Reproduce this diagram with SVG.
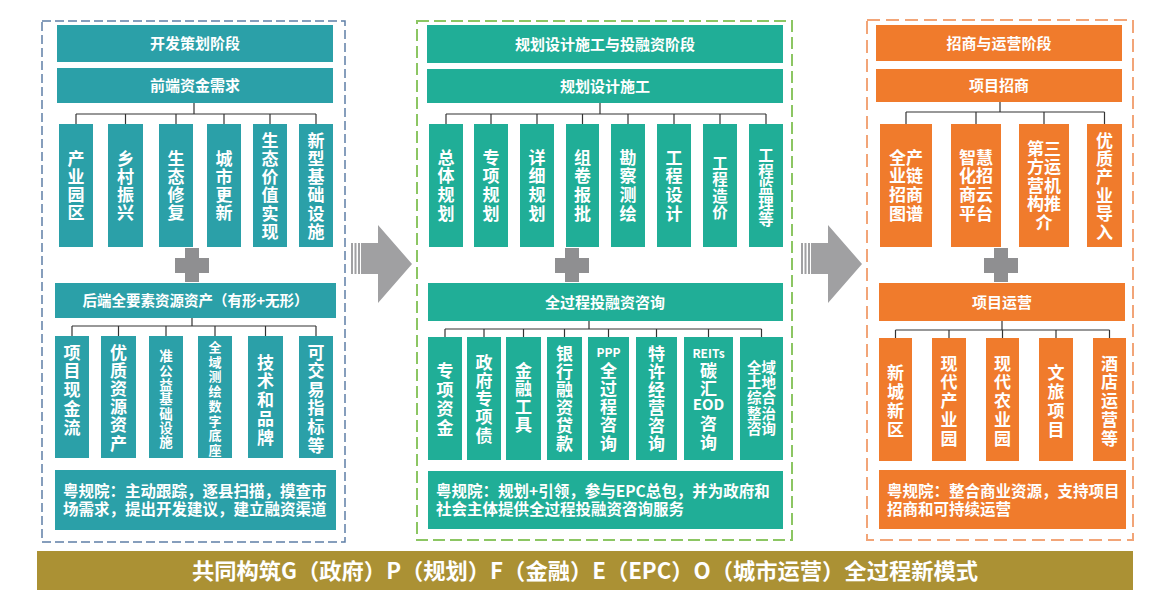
<svg xmlns="http://www.w3.org/2000/svg" width="1171" height="612" viewBox="0 0 1171 612">
<style>
text{font-family:"Noto Sans CJK SC","Noto Sans",sans-serif;font-weight:bold;fill:#fff}
.h{font-size:15px;text-anchor:middle}
.v{font-size:17px;text-anchor:middle}
.p{font-size:15.5px}
.L{fill:#2ba0a8}
.C{fill:#20ae97}
.R{fill:#f07b2c}
.conn line{stroke:#333;stroke-width:1.2}
.plus{fill:#8f8f91}
.arrow{fill:#a0a0a2}
</style>
<rect width="1171" height="612" fill="#fff"/>
<!-- panel borders -->
<rect x="42" y="21" width="303" height="521" fill="none" stroke="#5f7fa6" stroke-width="1.5" stroke-dasharray="9 4"/>
<rect x="417" y="21" width="375" height="519" fill="none" stroke="#8cc663" stroke-width="2" stroke-dasharray="12 5"/>
<rect x="867" y="20" width="266" height="520" fill="none" stroke="#f2a578" stroke-width="2" stroke-dasharray="13 6"/>

<!-- arrows -->
<g id="arrow1" class="arrow">
<rect x="351" y="243" width="2" height="31"/><rect x="354.5" y="243" width="2" height="31"/><rect x="358" y="243" width="2" height="31"/>
<polygon points="361,243 378,243 378,225 412,264 378,303 378,274 361,274"/>
</g>
<g id="arrow2" class="arrow">
<rect x="801" y="243" width="2" height="31"/><rect x="804.5" y="243" width="2" height="31"/><rect x="808" y="243" width="2" height="31"/>
<polygon points="811,243 828,243 828,225 862,264 828,303 828,274 811,274"/>
</g>

<!-- plus signs -->
<g id="plus1" class="plus"><rect x="185" y="248" width="14" height="34"/><rect x="175" y="258" width="34" height="15"/></g>
<g id="plus2" class="plus"><rect x="565" y="248" width="14" height="34"/><rect x="555" y="258" width="34" height="15"/></g>
<g id="plus3" class="plus"><rect x="994" y="248" width="14" height="34"/><rect x="984" y="258" width="34" height="15"/></g>

<!-- connectors -->
<g id="connectors" class="conn">
<line x1="194" y1="103" x2="194" y2="114"/><line x1="76" y1="114" x2="316" y2="114"/>
<line x1="76" y1="114" x2="76" y2="124"/><line x1="125.5" y1="114" x2="125.5" y2="124"/><line x1="176" y1="114" x2="176" y2="124"/><line x1="224" y1="114" x2="224" y2="124"/><line x1="270" y1="114" x2="270" y2="124"/><line x1="316" y1="114" x2="316" y2="124"/>
<line x1="192" y1="318" x2="192" y2="326"/><line x1="72" y1="326" x2="316" y2="326"/>
<line x1="72" y1="326" x2="72" y2="336"/><line x1="118.5" y1="326" x2="118.5" y2="336"/><line x1="166" y1="326" x2="166" y2="336"/><line x1="215" y1="326" x2="215" y2="336"/><line x1="265.5" y1="326" x2="265.5" y2="336"/><line x1="316" y1="326" x2="316" y2="336"/>
<line x1="600" y1="103" x2="600" y2="114"/><line x1="446" y1="114" x2="766" y2="114"/>
<line x1="446" y1="114" x2="446" y2="124"/><line x1="491" y1="114" x2="491" y2="124"/><line x1="537" y1="114" x2="537" y2="124"/><line x1="582.5" y1="114" x2="582.5" y2="124"/><line x1="628" y1="114" x2="628" y2="124"/><line x1="674" y1="114" x2="674" y2="124"/><line x1="720" y1="114" x2="720" y2="124"/><line x1="766" y1="114" x2="766" y2="124"/>
<line x1="589" y1="321" x2="589" y2="329"/><line x1="445" y1="329" x2="761.5" y2="329"/>
<line x1="445" y1="329" x2="445" y2="337"/><line x1="484" y1="329" x2="484" y2="337"/><line x1="523.5" y1="329" x2="523.5" y2="337"/><line x1="564.5" y1="329" x2="564.5" y2="337"/><line x1="608.5" y1="329" x2="608.5" y2="337"/><line x1="656.5" y1="329" x2="656.5" y2="337"/><line x1="708.5" y1="329" x2="708.5" y2="337"/><line x1="761.5" y1="329" x2="761.5" y2="337"/>
<line x1="1000" y1="102" x2="1000" y2="112"/><line x1="906" y1="112" x2="1104.5" y2="112"/>
<line x1="906" y1="112" x2="906" y2="124"/><line x1="976" y1="112" x2="976" y2="124"/><line x1="1044" y1="112" x2="1044" y2="124"/><line x1="1104.5" y1="112" x2="1104.5" y2="124"/>
<line x1="1002" y1="321" x2="1002" y2="330"/><line x1="895.5" y1="330" x2="1109.5" y2="330"/>
<line x1="895.5" y1="330" x2="895.5" y2="338"/><line x1="949" y1="330" x2="949" y2="338"/><line x1="1002.5" y1="330" x2="1002.5" y2="338"/><line x1="1056" y1="330" x2="1056" y2="338"/><line x1="1109.5" y1="330" x2="1109.5" y2="338"/>
</g>

<!-- LEFT PANEL -->
<g id="l-stage"><rect class="L" x="57" y="25" width="276" height="37"/><text class="h" x="195" y="49">开发策划阶段</text></g>
<g id="l-front"><rect class="L" x="57" y="68" width="276" height="35"/><text class="h" x="195" y="91">前端资金需求</text></g>
<g id="l1"><rect class="L" x="59" y="124" width="34" height="123"/><text class="v" x="76" y="164.5"><tspan x="76">产</tspan><tspan x="76" dy="18.3">业</tspan><tspan x="76" dy="18.3">园</tspan><tspan x="76" dy="18.3">区</tspan></text></g>
<g id="l2"><rect class="L" x="108" y="124" width="35" height="123"/><text class="v" x="125.5" y="164.5"><tspan x="125.5">乡</tspan><tspan x="125.5" dy="18.3">村</tspan><tspan x="125.5" dy="18.3">振</tspan><tspan x="125.5" dy="18.3">兴</tspan></text></g>
<g id="l3"><rect class="L" x="159" y="124" width="34" height="123"/><text class="v" x="176" y="164.5"><tspan x="176">生</tspan><tspan x="176" dy="18.3">态</tspan><tspan x="176" dy="18.3">修</tspan><tspan x="176" dy="18.3">复</tspan></text></g>
<g id="l4"><rect class="L" x="207" y="124" width="34" height="123"/><text class="v" x="224" y="164.5"><tspan x="224">城</tspan><tspan x="224" dy="18.3">市</tspan><tspan x="224" dy="18.3">更</tspan><tspan x="224" dy="18.3">新</tspan></text></g>
<g id="l5"><rect class="L" x="253" y="124" width="34" height="123"/><text class="v" x="270" y="146.5"><tspan x="270">生</tspan><tspan x="270" dy="18.3">态</tspan><tspan x="270" dy="18.3">价</tspan><tspan x="270" dy="18.3">值</tspan><tspan x="270" dy="18.3">实</tspan><tspan x="270" dy="18.3">现</tspan></text></g>
<g id="l6"><rect class="L" x="299" y="124" width="34" height="123"/><text class="v" x="316" y="146.5"><tspan x="316">新</tspan><tspan x="316" dy="18.3">型</tspan><tspan x="316" dy="18.3">基</tspan><tspan x="316" dy="18.3">础</tspan><tspan x="316" dy="18.3">设</tspan><tspan x="316" dy="18.3">施</tspan></text></g>

<g id="l-back"><rect class="L" x="55" y="283" width="281" height="35"/><text class="h" x="195.5" y="306" style="font-size:14.5px">后端全要素资源资产（有形+无形）</text></g>
<g id="l7"><rect class="L" x="55" y="336" width="34" height="122"/><text class="v" x="72" y="358.5"><tspan x="72">项</tspan><tspan x="72" dy="18.75">目</tspan><tspan x="72" dy="18.75">现</tspan><tspan x="72" dy="18.75">金</tspan><tspan x="72" dy="18.75">流</tspan></text></g>
<g id="l8"><rect class="L" x="101" y="336" width="35" height="122"/><text class="v" x="118.5" y="358.5"><tspan x="118.5">优</tspan><tspan x="118.5" dy="18.2">质</tspan><tspan x="118.5" dy="18.2">资</tspan><tspan x="118.5" dy="18.2">源</tspan><tspan x="118.5" dy="18.2">资</tspan><tspan x="118.5" dy="18.2">产</tspan></text></g>
<g id="l9"><rect class="L" x="149" y="336" width="34" height="122"/><text class="v" x="166" y="361.3" style="font-size:13.5px"><tspan x="166">准</tspan><tspan x="166" dy="14.3">公</tspan><tspan x="166" dy="14.3">益</tspan><tspan x="166" dy="14.3">基</tspan><tspan x="166" dy="14.3">础</tspan><tspan x="166" dy="14.3">设</tspan><tspan x="166" dy="14.3">施</tspan></text></g>
<g id="l10"><rect class="L" x="198" y="336" width="34" height="122"/><text class="v" x="215" y="352" style="font-size:13px"><tspan x="215">全</tspan><tspan x="215" dy="14.7">域</tspan><tspan x="215" dy="14.7">测</tspan><tspan x="215" dy="14.7">绘</tspan><tspan x="215" dy="14.7">数</tspan><tspan x="215" dy="14.7">字</tspan><tspan x="215" dy="14.7">底</tspan><tspan x="215" dy="14.7">座</tspan></text></g>
<g id="l11"><rect class="L" x="248" y="336" width="35" height="122"/><text class="v" x="265.5" y="368.5"><tspan x="265.5">技</tspan><tspan x="265.5" dy="18.75">术</tspan><tspan x="265.5" dy="18.75">和</tspan><tspan x="265.5" dy="18.75">品</tspan><tspan x="265.5" dy="18.75">牌</tspan></text></g>
<g id="l12"><rect class="L" x="299" y="336" width="34" height="122"/><text class="v" x="316" y="358.5"><tspan x="316">可</tspan><tspan x="316" dy="18.6">交</tspan><tspan x="316" dy="18.6">易</tspan><tspan x="316" dy="18.6">指</tspan><tspan x="316" dy="18.6">标</tspan><tspan x="316" dy="18.6">等</tspan></text></g>
<g id="l-note"><rect class="L" x="55" y="470" width="281" height="60"/><text class="p" x="63" y="497">粤规院：主动跟踪，逐县扫描，摸查市</text><text class="p" x="63" y="515">场需求，提出开发建议，建立融资渠道</text></g>

<!-- CENTER PANEL -->
<g id="c-stage"><rect class="C" x="427" y="25" width="356" height="38"/><text class="h" x="605" y="50">规划设计施工与投融资阶段</text></g>
<g id="c-design"><rect class="C" x="427" y="69" width="356" height="34"/><text class="h" x="605" y="92">规划设计施工</text></g>
<g id="c1"><rect class="C" x="429" y="124" width="34" height="123"/><text class="v" x="446" y="163.5"><tspan x="446">总</tspan><tspan x="446" dy="18.7">体</tspan><tspan x="446" dy="18.7">规</tspan><tspan x="446" dy="18.7">划</tspan></text></g>
<g id="c2"><rect class="C" x="474" y="124" width="34" height="123"/><text class="v" x="491" y="163.5"><tspan x="491">专</tspan><tspan x="491" dy="18.7">项</tspan><tspan x="491" dy="18.7">规</tspan><tspan x="491" dy="18.7">划</tspan></text></g>
<g id="c3"><rect class="C" x="520" y="124" width="34" height="123"/><text class="v" x="537" y="163.5"><tspan x="537">详</tspan><tspan x="537" dy="18.7">细</tspan><tspan x="537" dy="18.7">规</tspan><tspan x="537" dy="18.7">划</tspan></text></g>
<g id="c4"><rect class="C" x="566" y="124" width="33" height="123"/><text class="v" x="582.5" y="163.5"><tspan x="582.5">组</tspan><tspan x="582.5" dy="18.7">卷</tspan><tspan x="582.5" dy="18.7">报</tspan><tspan x="582.5" dy="18.7">批</tspan></text></g>
<g id="c5"><rect class="C" x="611" y="124" width="34" height="123"/><text class="v" x="628" y="163.5"><tspan x="628">勘</tspan><tspan x="628" dy="18.7">察</tspan><tspan x="628" dy="18.7">测</tspan><tspan x="628" dy="18.7">绘</tspan></text></g>
<g id="c6"><rect class="C" x="657" y="124" width="34" height="123"/><text class="v" x="674" y="163.5"><tspan x="674">工</tspan><tspan x="674" dy="18.7">程</tspan><tspan x="674" dy="18.7">设</tspan><tspan x="674" dy="18.7">计</tspan></text></g>
<g id="c7"><rect class="C" x="703" y="124" width="34" height="123"/><text class="v" x="720" y="168.5" style="font-size:15.5px"><tspan x="720">工</tspan><tspan x="720" dy="16.5">程</tspan><tspan x="720" dy="16.5">造</tspan><tspan x="720" dy="16.5">价</tspan></text></g>
<g id="c8"><rect class="C" x="749" y="124" width="34" height="123"/><text class="v" x="766" y="160.5" style="font-size:15.5px"><tspan x="766">工</tspan><tspan x="766" dy="16.2">程</tspan><tspan x="766" dy="16.2">监</tspan><tspan x="766" dy="16.2">理</tspan><tspan x="766" dy="16.2">等</tspan></text></g>

<g id="c-finance"><rect class="C" x="428" y="283" width="355" height="38"/><text class="h" x="605" y="307.5">全过程投融资咨询</text></g>
<g id="c9"><rect class="C" x="428" y="337" width="34" height="123"/><text class="v" x="445" y="376.5"><tspan x="445">专</tspan><tspan x="445" dy="19">项</tspan><tspan x="445" dy="19">资</tspan><tspan x="445" dy="19">金</tspan></text></g>
<g id="c10"><rect class="C" x="467" y="337" width="34" height="123"/><text class="v" x="484" y="368.5"><tspan x="484">政</tspan><tspan x="484" dy="18.25">府</tspan><tspan x="484" dy="18.25">专</tspan><tspan x="484" dy="18.25">项</tspan><tspan x="484" dy="18.25">债</tspan></text></g>
<g id="c11"><rect class="C" x="506" y="337" width="35" height="123"/><text class="v" x="523.5" y="376.5"><tspan x="523.5">金</tspan><tspan x="523.5" dy="18.3">融</tspan><tspan x="523.5" dy="18.3">工</tspan><tspan x="523.5" dy="18.3">具</tspan></text></g>
<g id="c12"><rect class="C" x="547" y="337" width="35" height="123"/><text class="v" x="564.5" y="359.5"><tspan x="564.5">银</tspan><tspan x="564.5" dy="18">行</tspan><tspan x="564.5" dy="18">融</tspan><tspan x="564.5" dy="18">资</tspan><tspan x="564.5" dy="18">贷</tspan><tspan x="564.5" dy="18">款</tspan></text></g>
<g id="c13"><rect class="C" x="588" y="337" width="41" height="123"/><text class="v" x="608.5" y="356.5" style="font-size:12px">PPP</text><text class="v" x="608.5" y="376.5"><tspan x="608.5">全</tspan><tspan x="608.5" dy="18.25">过</tspan><tspan x="608.5" dy="18.25">程</tspan><tspan x="608.5" dy="18.25">咨</tspan><tspan x="608.5" dy="18.25">询</tspan></text></g>
<g id="c14"><rect class="C" x="636" y="337" width="41" height="123"/><text class="v" x="656.5" y="359.5"><tspan x="656.5">特</tspan><tspan x="656.5" dy="18">许</tspan><tspan x="656.5" dy="18">经</tspan><tspan x="656.5" dy="18">营</tspan><tspan x="656.5" dy="18">咨</tspan><tspan x="656.5" dy="18">询</tspan></text></g>
<g id="c15"><rect class="C" x="684" y="337" width="49" height="123"/><text class="v" x="708.5" y="357.5" style="font-size:12px">REITs</text><text class="v" x="708.5" y="376.5">碳</text><text class="v" x="708.5" y="394.5">汇</text><text class="v" x="708.5" y="409.5" style="font-size:15px">EOD</text><text class="v" x="708.5" y="429.5">咨</text><text class="v" x="708.5" y="448.5">询</text></g>
<g id="c16"><rect class="C" x="740" y="337" width="43" height="123"/><text class="v" x="761.5" y="372.5" style="font-size:14.5px"><tspan x="761.5">全域</tspan><tspan x="761.5" dy="15.4">土地</tspan><tspan x="761.5" dy="15.4">综合</tspan><tspan x="761.5" dy="15.4">整治</tspan><tspan x="761.5" dy="15.4">咨询</tspan></text></g>
<g id="c-note"><rect class="C" x="428" y="471" width="355" height="58"/><text class="p" x="436" y="497">粤规院：规划+引领，参与EPC总包，并为政府和</text><text class="p" x="436" y="515">社会主体提供全过程投融资咨询服务</text></g>

<!-- RIGHT PANEL -->
<g id="r-stage"><rect class="R" x="876" y="25" width="246" height="36"/><text class="h" x="999" y="48.5">招商与运营阶段</text></g>
<g id="r-invest"><rect class="R" x="876" y="69" width="246" height="33"/><text class="h" x="999" y="91">项目招商</text></g>
<g id="r1"><rect class="R" x="880" y="124" width="52" height="123"/><text class="v" x="906" y="163.5"><tspan x="906">全产</tspan><tspan x="906" dy="18.7">业链</tspan><tspan x="906" dy="18.7">招商</tspan><tspan x="906" dy="18.7">图谱</tspan></text></g>
<g id="r2"><rect class="R" x="951" y="124" width="50" height="123"/><text class="v" x="976" y="163.5"><tspan x="976">智慧</tspan><tspan x="976" dy="18.7">化招</tspan><tspan x="976" dy="18.7">商云</tspan><tspan x="976" dy="18.7">平台</tspan></text></g>
<g id="r3"><rect class="R" x="1019" y="124" width="50" height="123"/><text class="v" x="1044" y="154.5"><tspan x="1044">第三</tspan><tspan x="1044" dy="18.5">方运</tspan><tspan x="1044" dy="18.5">营机</tspan><tspan x="1044" dy="18.5">构推</tspan><tspan x="1044" dy="18.5">介</tspan></text></g>
<g id="r4"><rect class="R" x="1087" y="124" width="35" height="123"/><text class="v" x="1104.5" y="146.5"><tspan x="1104.5">优</tspan><tspan x="1104.5" dy="18.4">质</tspan><tspan x="1104.5" dy="18.4">产</tspan><tspan x="1104.5" dy="18.4">业</tspan><tspan x="1104.5" dy="18.4">导</tspan><tspan x="1104.5" dy="18.4">入</tspan></text></g>

<g id="r-operate"><rect class="R" x="879" y="283" width="246" height="38"/><text class="h" x="1002" y="307.5">项目运营</text></g>
<g id="r5"><rect class="R" x="879" y="338" width="33" height="123"/><text class="v" x="895.5" y="378.5"><tspan x="895.5">新</tspan><tspan x="895.5" dy="19.3">城</tspan><tspan x="895.5" dy="19.3">新</tspan><tspan x="895.5" dy="19.3">区</tspan></text></g>
<g id="r6"><rect class="R" x="932" y="338" width="34" height="123"/><text class="v" x="949" y="369.5"><tspan x="949">现</tspan><tspan x="949" dy="18.75">代</tspan><tspan x="949" dy="18.75">产</tspan><tspan x="949" dy="18.75">业</tspan><tspan x="949" dy="18.75">园</tspan></text></g>
<g id="r7"><rect class="R" x="986" y="338" width="33" height="123"/><text class="v" x="1002.5" y="369.5"><tspan x="1002.5">现</tspan><tspan x="1002.5" dy="18.75">代</tspan><tspan x="1002.5" dy="18.75">农</tspan><tspan x="1002.5" dy="18.75">业</tspan><tspan x="1002.5" dy="18.75">园</tspan></text></g>
<g id="r8"><rect class="R" x="1039" y="338" width="34" height="123"/><text class="v" x="1056" y="378.5"><tspan x="1056">文</tspan><tspan x="1056" dy="19.3">旅</tspan><tspan x="1056" dy="19.3">项</tspan><tspan x="1056" dy="19.3">目</tspan></text></g>
<g id="r9"><rect class="R" x="1093" y="338" width="33" height="123"/><text class="v" x="1109.5" y="369.5"><tspan x="1109.5">酒</tspan><tspan x="1109.5" dy="18.75">店</tspan><tspan x="1109.5" dy="18.75">运</tspan><tspan x="1109.5" dy="18.75">营</tspan><tspan x="1109.5" dy="18.75">等</tspan></text></g>
<g id="r-note"><rect class="R" x="879" y="470" width="247" height="59"/><text class="p" x="887" y="497">粤规院：整合商业资源，支持项目</text><text class="p" x="887" y="515">招商和可持续运营</text></g>

<!-- bottom bar -->
<g id="model"><rect x="37" y="551" width="1096" height="39" fill="#ab9134"/><text x="585" y="579" style="font-size:22px;text-anchor:middle" textLength="786" lengthAdjust="spacingAndGlyphs">共同构筑G（政府）P（规划）F（金融）E（EPC）O（城市运营）全过程新模式</text></g>
</svg>
